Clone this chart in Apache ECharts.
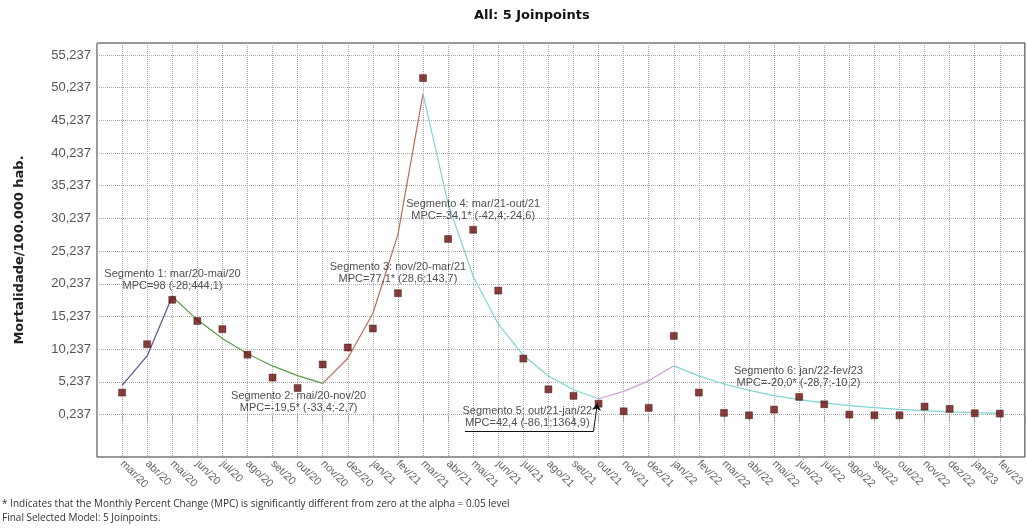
<!DOCTYPE html>
<html>
<head>
<meta charset="utf-8">
<script src="https://cdn.jsdelivr.net/npm/echarts@6/dist/echarts.min.js"></script>
<style>
html,body{margin:0;padding:0;background:#fff;}
#c{width:1027px;height:530px;}
</style>
</head>
<body>
<div id="c"></div>
<script>
const months = ['mar/20','abr/20','mai/20','jun/20','jul/20','ago/20','set/20','out/20','nov/20','dez/20',
'jan/21','fev/21','mar/21','abr/21','mai/21','jun/21','jul/21','ago/21','set/21','out/21','nov/21','dez/21',
'jan/22','fev/22','mar/22','abr/22','mai/22','jun/22','jul/22','ago/22','set/22','out/22','nov/22','dez/22',
'jan/23','fev/23'];
const observed = [3.6,11.0,17.8,14.55,13.3,9.4,5.9,4.3,7.9,10.5,
13.4,18.8,51.7,27.1,28.5,19.2,8.8,4.1,3.1,1.9,0.74,1.26,
12.26,3.6,0.5,0.13,1.0,2.94,1.81,0.24,0.13,0.13,1.46,1.11,
0.44,0.39];
const seg1 = [4.7,9.2,18.3];                       // mar/20-mai/20
const seg2 = [18.3,14.73,11.86,9.55,7.68,6.19,5.0]; // mai/20-nov/20
const seg3 = [5.0,8.85,15.7,27.8,49.3];            // nov/20-mar/21
const seg4 = [49.3,32.5,21.4,14.1,9.3,6.13,4.04,2.66]; // mar/21-out/21
const seg5 = [2.66,3.79,5.40,7.69];                // out/21-jan/22
const seg6 = [7.69,6.15,4.92,3.94,3.15,2.52,2.02,1.61,1.29,1.03,0.83,0.66,0.53,0.42]; // jan/22-fev/23
const segStart = [0,2,8,12,19,22];
const yTicks = [0.237,5.237,10.237,15.237,20.237,25.237,30.237,35.237,40.237,45.237,50.237,55.237];
const annotations = [
  {x:2.01, y:20.86, text:'Segmento 1: mar/20-mai/20\nMPC=98 (-28;444,1)'},
  {x:7.04, y:2.22, text:'Segmento 2: mai/20-nov/20\nMPC=-19,5* (-33,4;-2,7)'},
  {x:11.0, y:21.93, text:'Segmento 3: nov/20-mar/21\nMPC=77,1* (28,6;143,7)'},
  {x:14.0, y:31.48, text:'Segmento 4: mar/21-out/21\nMPC=-34,1* (-42,4;-24,6)'},
  {x:16.16, y:-0.19, text:'Segmento 5: out/21-jan/22\nMPC=42,4 (-86,1;1364,9)'},
  {x:26.97, y:5.94, text:'Segmento 6: jan/22-fev/23\nMPC=-20,0* (-28,7;-10,2)'}
];
const segColors = ['#5a4f9a','#5f9a4c','#c0695a','#80d4d4','#caa2d2','#80d4d4'];

const segs = [seg1,seg2,seg3,seg4,seg5,seg6];
const lineSeries = segs.map((s,k)=>({
  type:'line', data:s.map((v,i)=>[segStart[k]+i, v]),
  symbol:'none', lineStyle:{color:segColors[k], width:1.2}, z:2, silent:true
}));

const chart = echarts.init(document.getElementById('c'));
chart.setOption({
  animation:false,
  grid:{left:97, right:2, top:43, bottom:73, show:true, borderColor:'#333', borderWidth:1},
  xAxis:{
    type:'value', min:-1, max:36, interval:1,
    axisLine:{show:false},
    axisTick:{show:true, length:5, lineStyle:{color:'#999', type:'dotted'}},
    splitLine:{show:true, lineStyle:{color:'#aaa', type:'dotted', width:1}},
    axisLabel:{rotate:-45, fontSize:11, color:'#666', fontFamily:'Liberation Sans, Arial',
      margin:5, formatter:(v)=>months[Math.round(v)]||''}
  },
  yAxis:{
    type:'value', min:-6.25, max:57.07,
    name:'Mortalidade/100.000 hab.', nameLocation:'middle', nameGap:71, nameRotate:90,
    nameTextStyle:{fontSize:13, fontWeight:'bold', color:'#222', fontFamily:'DejaVu Sans, Verdana'},
    axisLine:{show:false},
    axisTick:{show:true, length:5, customValues:yTicks, lineStyle:{color:'#999', type:'dotted'}},
    splitLine:{show:true, lineStyle:{color:'#aaa', type:'dotted', width:1}},
    axisLabel:{customValues:yTicks, fontSize:13, color:'#555', fontFamily:'Liberation Sans, Arial', margin:6,
      formatter:(v)=>v.toFixed(3).replace('.',',')}
  },
  graphic:[
    {type:'text', left:474, top:9, style:{text:'All: 5 Joinpoints', font:'bold 13px "DejaVu Sans", Verdana', fill:'#111'}},
    {type:'text', left:2, top:499, style:{text:'* Indicates that the Monthly Percent Change (MPC) is significantly different from zero at the alpha = 0.05 level', font:'10px "Open Sans", "Liberation Sans"', fill:'#333'}},
    {type:'text', left:2, top:513, style:{text:'Final Selected Model: 5 Joinpoints.', font:'10px "Open Sans", "Liberation Sans"', fill:'#333'}}
  ],
  series:[
    ...lineSeries,
    {type:'scatter', data:observed.map((v,i)=>[i,v]), symbol:'rect', symbolSize:7,
      itemStyle:{color:'#680c0c', borderColor:'#3a0606', borderWidth:0.5}, z:3},
    {type:'scatter', data:annotations.map(a=>[a.x,a.y,a.text]), symbolSize:0, z:4, silent:true,
      label:{show:true, position:'inside', formatter:(p)=>p.data[2], fontSize:11, lineHeight:12,
        color:'#222', fontFamily:'Liberation Sans, Arial', align:'center'},
      markLine:{silent:true, symbol:['none','none'], lineStyle:{color:'#111', width:1, type:'solid'}, label:{show:false},
        data:[
          [{coord:[13.67,-2.31]},{coord:[18.8,-2.31]}],
          [{coord:[18.8,-2.31], symbol:'none'},{coord:[18.95,1.95], symbol:'arrow', symbolSize:7}]
        ]}
    }
  ]
});
</script>
</body>
</html>
